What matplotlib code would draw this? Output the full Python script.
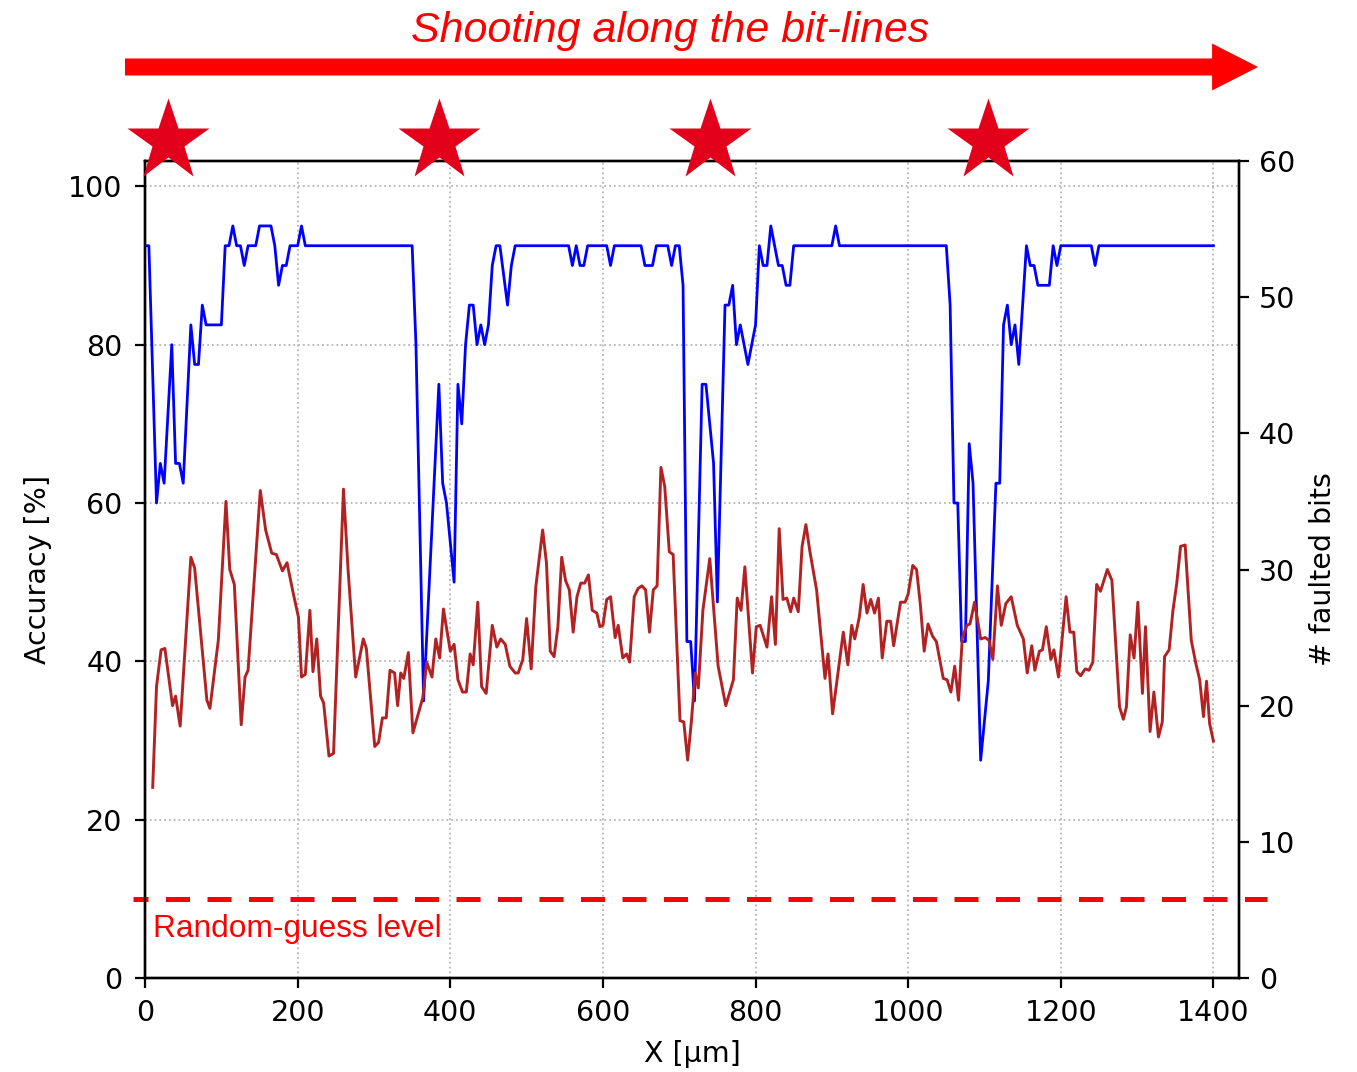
import matplotlib
matplotlib.use("Agg")
import matplotlib.pyplot as plt
import matplotlib.transforms as mtransforms
from matplotlib.patches import FancyArrow

# accuracy (blue), vertices of the polyline
acc_x = [0, 5, 15, 20, 25, 35, 40, 45, 50, 60, 65, 70, 75, 80, 100, 105, 110, 115, 120,
         125, 130, 135, 145, 150, 165, 170, 175, 180, 185, 190, 200, 205, 210, 350, 355,
         365, 385, 390, 395, 405, 410, 415, 420, 425, 430, 435, 440, 445, 450, 455, 460,
         465, 475, 480, 485, 555, 560, 565, 570, 575, 580, 605, 610, 615, 650, 655, 665,
         670, 685, 690, 695, 700, 705, 710, 715, 720, 730, 735, 745, 750, 760, 765, 770,
         775, 780, 790, 800, 805, 810, 815, 820, 830, 835, 840, 845, 850, 900, 905, 910,
         1050, 1055, 1060, 1065, 1070, 1075, 1080, 1085, 1095, 1105, 1115, 1120, 1125,
         1130, 1135, 1140, 1145, 1155, 1160, 1165, 1170, 1185, 1190, 1195, 1200, 1240,
         1245, 1250, 1400]
acc_y = [92.5, 92.5, 60, 65, 62.5, 80, 65, 65, 62.5, 82.5, 77.5, 77.5, 85, 82.5, 82.5, 92.5,
         92.5, 95, 92.5, 92.5, 90, 92.5, 92.5, 95, 95, 92.5, 87.5, 90, 90, 92.5, 92.5, 95,
         92.5, 92.5, 80, 35, 75, 62.5, 60, 50, 75, 70, 80, 85, 85, 80, 82.5, 80, 82.5, 90,
         92.5, 92.5, 85, 90, 92.5, 92.5, 90, 92.5, 90, 90, 92.5, 92.5, 90, 92.5, 92.5, 90,
         90, 92.5, 92.5, 90, 92.5, 92.5, 87.5, 42.5, 42.5, 35, 75, 75, 65, 47.5, 85, 85,
         87.5, 80, 82.5, 77.5, 82.5, 92.5, 90, 90, 95, 90, 90, 87.5, 87.5, 92.5, 92.5, 95,
         92.5, 92.5, 85, 60, 60, 42.5, 42.5, 67.5, 62.5, 27.5, 37.5, 62.5, 62.5, 82.5, 85,
         80, 82.5, 77.5, 92.5, 90, 90, 87.5, 87.5, 92.5, 90, 92.5, 92.5, 90, 92.5, 92.5]

# number of faulted bits (red)
bits_x = [10, 15, 21, 26, 36, 40, 46, 60, 65, 81, 85, 96, 106, 111, 117, 126, 131, 135, 151,
          158, 166, 172, 180, 186, 194, 201, 205, 210, 216, 220, 225, 230, 234, 241, 247,
          260, 266, 276, 286, 290, 301, 306, 311, 316, 321, 327, 331, 335, 339, 345, 351,
          364, 369, 376, 381, 386, 391, 400, 405, 410, 416, 421, 426, 430, 436, 441, 447,
          455, 461, 466, 472, 478, 485, 489, 495, 500, 506, 512, 521, 526, 531, 536, 541,
          546, 551, 556, 561, 566, 571, 576, 581, 586, 592, 596, 600, 605, 610, 616, 620,
          626, 631, 635, 641, 646, 651, 656, 661, 666, 671, 676, 681, 687, 692, 701, 706,
          711, 716, 721, 725, 731, 740, 751, 761, 771, 776, 781, 786, 796, 801, 806, 815,
          821, 826, 831, 836, 841, 846, 850, 856, 861, 866, 871, 880, 891, 895, 901, 915,
          921, 926, 930, 936, 941, 946, 951, 956, 961, 966, 972, 977, 981, 990, 996, 1000,
          1006, 1011, 1016, 1021, 1026, 1032, 1037, 1046, 1051, 1056, 1061, 1066, 1071,
          1077, 1081, 1087, 1095, 1101, 1106, 1111, 1117, 1122, 1128, 1135, 1143, 1151,
          1156, 1162, 1166, 1172, 1176, 1181, 1187, 1191, 1197, 1207, 1212, 1217, 1221,
          1226, 1232, 1237, 1242, 1247, 1252, 1261, 1267, 1277, 1282, 1286, 1291, 1296,
          1301, 1307, 1311, 1317, 1322, 1328, 1333, 1336, 1342, 1347, 1352, 1357, 1363,
          1371, 1377, 1382, 1387, 1391, 1395, 1400]
bits_y = [14.0, 21.4, 24.1, 24.2, 20.0, 20.7, 18.5, 30.9, 30.1, 20.4, 19.8, 24.8, 35.0, 30.0,
          28.9, 18.6, 22.1, 22.6, 35.8, 32.9, 31.2, 31.1, 29.9, 30.5, 28.3, 26.5, 22.1, 22.3,
          27.0, 22.5, 24.9, 20.7, 20.2, 16.3, 16.5, 35.9, 30.0, 22.1, 24.9, 24.2, 17.0, 17.3,
          19.1, 19.1, 22.6, 22.4, 20.0, 22.4, 22.0, 23.9, 18.0, 20.6, 23.2, 22.1, 24.9, 23.5,
          27.1, 24.0, 24.5, 21.9, 21.0, 21.0, 23.8, 23.0, 27.6, 21.4, 20.9, 25.9, 24.3, 24.9,
          24.5, 22.9, 22.4, 22.4, 23.4, 26.4, 22.7, 28.7, 32.9, 30.5, 24.0, 23.6, 25.8, 30.9,
          29.2, 28.5, 25.4, 28.0, 29.0, 29.0, 29.6, 27.0, 26.8, 25.8, 25.9, 27.8, 28.0, 25.0,
          25.9, 23.5, 23.8, 23.2, 28.0, 28.6, 28.8, 28.5, 25.4, 28.5, 28.8, 37.5, 36.1, 31.3,
          31.1, 18.9, 18.8, 16.0, 18.9, 22.4, 21.3, 27.0, 30.8, 22.9, 20.0, 21.9, 27.9, 27.0,
          30.2, 22.4, 25.8, 25.9, 24.3, 28.0, 24.5, 33.0, 27.8, 27.9, 26.9, 27.9, 26.9, 31.7,
          33.3, 31.4, 28.5, 22.0, 23.8, 19.4, 25.4, 23.0, 25.9, 24.9, 26.5, 28.9, 26.8, 27.8,
          26.8, 27.9, 23.5, 26.2, 26.2, 24.4, 27.6, 27.6, 28.2, 30.3, 30.0, 27.4, 24.0, 26.0,
          25.1, 24.7, 22.0, 21.9, 21.0, 22.9, 20.4, 25.0, 25.9, 26.0, 27.6, 24.9, 25.0, 24.8,
          23.4, 28.8, 25.9, 27.5, 28.0, 25.9, 24.9, 22.4, 24.4, 22.6, 24.0, 24.1, 25.8, 23.4,
          24.1, 22.1, 28.0, 25.4, 25.4, 22.5, 22.2, 22.7, 22.6, 23.2, 28.9, 28.4, 30.0, 29.2,
          19.9, 19.0, 19.9, 25.2, 23.5, 27.6, 20.9, 25.8, 18.1, 21.0, 17.7, 18.8, 23.6, 24.1,
          27.0, 29.0, 31.7, 31.8, 24.8, 23.1, 21.9, 19.2, 21.8, 18.7, 17.4]

# laser shot positions (stars) and random-guess accuracy
star_x = [30, 385, 740, 1105]
random_guess = 10

fig = plt.figure(figsize=(13.57, 10.72), dpi=100)
ax = fig.add_axes([0.1069, 0.0877, 0.8064, 0.7621])
ax2 = ax.twinx()

ax.plot(acc_x, acc_y, color="#0000FF", lw=2.0, zorder=3)
ax2.plot(bits_x, bits_y, color="#B22222", lw=2.1, zorder=3)

ax.set_xlim(0, 1434)
ax.set_ylim(0, 103.2)
ax2.set_ylim(0, 60)
ax.set_xticks(range(0, 1401, 200))
ax.set_yticks(range(0, 101, 20))
ax2.set_yticks(range(0, 61, 10))

ax.grid(True, linestyle=":", color="#b5b5b5", lw=1.3)
for a in (ax, ax2):
    for s in a.spines.values():
        s.set_linewidth(1.7)
    a.tick_params(labelsize=20.5, length=7.2, width=1.6)
ax.tick_params(axis="y", pad=9)
ax.tick_params(axis="x", pad=8)
ax2.tick_params(axis="y", pad=7)

ax.set_xlabel("X [µm]", fontsize=20.5, labelpad=9)
ax.set_ylabel("Accuracy [%]", fontsize=20.5, labelpad=12)
ax2.set_ylabel("# faulted bits", fontsize=20.5, labelpad=10)

# random-guess level
ax.axhline(random_guess, xmin=-0.011, xmax=1.025, color="#FF0000", lw=3.6,
           linestyle=(1.8, (4.8, 3.5)), clip_on=False, zorder=5)
ax.text(10.5, 6.2, "Random-guess level", color="#FF0000", fontsize=22.8,
        family="Liberation Sans", va="center", ha="left")

# stars above the plot
trans = mtransforms.blended_transform_factory(ax.transData, ax.transAxes)
ax2.plot(star_x, [1.0245] * len(star_x), linestyle="none", marker="*", ms=62,
         color="#E2001A", mec="none", transform=trans, clip_on=False, zorder=10)

# arrow and header
fig.patches.append(FancyArrow(0.0921, 0.9375, 0.835, 0, width=0.0159, head_width=0.0438,
                              head_length=0.0339, length_includes_head=True,
                              color="#FF0000", lw=0, transform=fig.transFigure))
fig.text(0.4937, 0.9715, "Shooting along the bit-lines", color="#FF0000", fontsize=31,
         style="italic", family="Liberation Sans", ha="center", va="center")

fig.savefig("out.png", dpi=100)
